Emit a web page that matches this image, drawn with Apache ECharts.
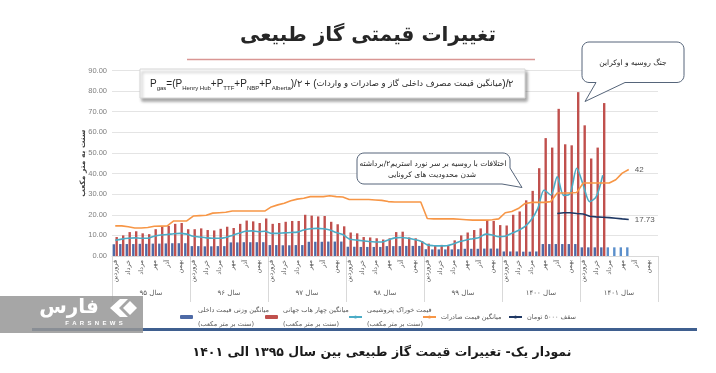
<!DOCTYPE html>
<html><head><meta charset="utf-8">
<script src="https://cdn.jsdelivr.net/npm/echarts@6/dist/echarts.min.js"></script>
<style>html,body{margin:0;padding:0;background:#fff}#c{width:716px;height:373px}</style>
</head><body><div id="c"></div>
<script>
// ---------- tick labels ----------
const monthNames = ['فروردین','اردیبهشت','خرداد','تیر','مرداد','شهریور','مهر','آبان','آذر','دی','بهمن','اسفند'];
const yearLabels = ['سال ۹۵','سال ۹۶','سال ۹۷','سال ۹۸','سال ۹۹','سال ۱۴۰۰','سال ۱۴۰۱'];
const yMin = 0, yMax = 90, yStep = 10;

// ---------- series names ----------
const nameDomestic = 'میانگین وزنی قیمت داخلی';
const nameHubs = 'میانگین چهار هاب جهانی';
const namePetro = 'قیمت خوراک پتروشیمی';
const nameExport = 'میانگین قیمت صادرات';
const nameCeiling = 'سقف ۵۰۰۰ تومان';
const unitText = '(سنت بر متر مکعب)';

// ---------- values (cents per m3), 7 years x 12 months ----------
const domesticPrice = [
  5.7,5.8,5.8,5.8,5.9,5.9,6.0,6.0,6.1,6.2,6.2,6.2,
  4.8,4.8,4.7,4.7,4.8,4.8,6.6,6.6,6.7,6.7,6.7,6.7,
  5.3,5.3,5.2,5.2,5.3,5.3,6.9,6.9,6.9,7.0,7.0,7.0,
  4.5,4.5,4.4,4.4,4.4,4.4,4.8,4.8,4.8,4.9,4.9,4.9,
  3.3,3.2,3.2,3.2,3.2,3.3,3.5,3.5,3.5,3.6,3.6,3.6,
  2.2,2.2,2.2,2.1,2.1,2.2,5.8,5.8,5.8,5.8,5.8,5.8,
  4.2,4.2,4.2,4.2,4.2,4.2,4.2,4.2,null,null,null,null
];
const hubAverage = [
  9.2,10.0,11.6,12.0,11.0,10.6,13.0,14.2,14.6,15.6,16.0,13.0,
  13.0,13.4,12.6,12.4,13.2,14.2,13.6,15.6,17.2,16.8,16.0,18.2,
  15.6,16.0,16.6,17.0,17.0,20.0,19.6,19.2,19.4,16.6,15.4,14.4,
  11.4,11.0,9.2,9.0,8.6,8.0,8.6,11.6,11.8,9.0,8.6,7.2,
  6.0,5.2,5.4,5.0,7.6,10.0,11.4,12.6,13.4,17.4,17.0,15.0,
  14.8,20.0,21.6,27.0,31.6,42.6,57.2,52.6,71.4,54.2,53.7,79.5,
  63.4,47.3,52.6,74.2,null,null,null,null,null,null,null,null
];
const petrochemFeed = [
  7.6,8.2,8.6,8.8,8.6,8.6,9.6,10.2,10.4,10.8,11.0,10.6,
  9.6,9.2,8.8,8.6,8.6,9.0,10.0,11.0,12.0,12.2,11.8,12.0,
  11.0,11.0,11.2,11.4,11.6,12.6,13.2,13.4,13.2,12.6,11.4,10.4,
  8.2,7.8,7.4,7.0,6.8,6.8,7.8,8.8,9.0,8.6,8.0,7.2,
  5.4,5.0,4.9,5.0,5.8,7.0,7.8,8.4,9.0,10.6,10.2,9.4,
  9.6,11.0,12.4,14.2,17.6,23.0,32.0,29.6,38.4,29.4,30.4,42.6,
  34.4,26.4,28.8,39.2,null,null,null,null,null,null,null,null
];
const exportPrice = [
  14.6,14.6,14.2,13.6,13.6,13.8,14.4,14.5,14.6,17.0,17.0,17.0,
  19.4,19.6,19.8,20.8,21.0,21.2,21.8,21.8,21.8,21.8,21.8,21.8,
  23.8,24.8,25.6,26.8,27.6,28.0,28.8,28.8,28.8,29.2,28.8,28.6,
  27.4,27.4,27.4,27.4,27.2,27.0,26.4,26.2,26.2,26.2,26.2,26.2,
  18.2,18.0,18.0,18.0,18.0,17.8,17.6,17.4,17.4,17.4,17.6,18.0,
  21.0,21.6,23.0,25.4,26.0,26.0,26.0,26.4,30.6,30.6,30.6,30.8,
  35.4,35.4,35.4,35.4,35.4,37.0,40.2,42.0,null,null,null,null
];
const ceiling5000 = [
  null,null,null,null,null,null,null,null,null,null,null,null,
  null,null,null,null,null,null,null,null,null,null,null,null,
  null,null,null,null,null,null,null,null,null,null,null,null,
  null,null,null,null,null,null,null,null,null,null,null,null,
  null,null,null,null,null,null,null,null,null,null,null,null,
  null,null,null,null,null,null,null,null,20.6,21.0,21.0,20.6,
  20.4,19.3,19.0,18.8,18.6,18.3,18.0,17.73,null,null,null,null
];

// ---------- build ----------
const categories = [];
yearLabels.forEach((y, yi) => monthNames.forEach(m => categories.push(yi + '|' + m)));
const lastDomesticDark = 6 * 12 + 3; // later months drawn in lighter blue
const domesticData = domesticPrice.map((v, i) => i > lastDomesticDark && v != null ? {value: v, itemStyle: {color: '#5b8fcb'}} : v);

const FA = '"DejaVu Sans", sans-serif';
const LAT = '"Liberation Sans", Arial, sans-serif';

function arc(cx, cy, r, a0, a1) {
  const pts = [];
  for (let k = 0; k <= 6; k++) {
    const a = (a0 + (a1 - a0) * k / 6) * Math.PI / 180;
    pts.push([cx + r * Math.cos(a), cy + r * Math.sin(a)]);
  }
  return pts;
}
function calloutBottom(x0, y0, x1, y1, r, bR, tip, bL) {
  return [].concat(arc(x0 + r, y0 + r, r, 180, 270), arc(x1 - r, y0 + r, r, 270, 360),
    arc(x1 - r, y1 - r, r, 0, 90), [[bR, y1], tip, [bL, y1]], arc(x0 + r, y1 - r, r, 90, 180));
}
function calloutRightCorner(x0, y0, x1, y1, r, yR, tip, xB) {
  return [].concat(arc(x0 + r, y0 + r, r, 180, 270), arc(x1 - r, y0 + r, r, 270, 360),
    [[x1, yR], tip, [xB, y1]], arc(x0 + r, y1 - r, r, 90, 180));
}

function legendFor(name, left, twoLine) {
  return {
    left: left, top: twoLine ? 291 : 305, itemWidth: 13, itemHeight: 4,
    textStyle: {fontSize: 6.5, color: '#595959', fontFamily: FA, lineHeight: 14},
    formatter: n => twoLine ? n + '\n' + unitText : n,
    data: [twoLine ? {name: name, textStyle: {padding: [14, 0, 0, 0]}} : {name: name}]
  };
}

const chart = echarts.init(document.getElementById('c'), null, {renderer: 'canvas'});
chart.setOption({
  animation: false,
  backgroundColor: '#fff',
  grid: {left: 112, right: 58, top: 70.5, bottom: 117},
  legend: [
    legendFor(nameDomestic, 175, true),
    legendFor(nameHubs, 260, true),
    legendFor(namePetro, 343, true),
    legendFor(nameExport, 417, false),
    legendFor(nameCeiling, 503, false)
  ],
  xAxis: [{
    type: 'category', data: categories,
    axisLine: {lineStyle: {color: '#d9d9d9'}},
    axisTick: {show: false},
    axisLabel: {interval: 1, rotate: 90, fontSize: 6.5, color: '#595959', fontFamily: FA, margin: 4,
      formatter: v => v.split('|')[1]},
    splitLine: {show: false}
  }, {
    type: 'category', data: yearLabels, position: 'bottom',
    axisLine: {show: false},
    axisTick: {show: true, length: 46, lineStyle: {color: '#d9d9d9'}},
    axisLabel: {margin: 34, fontSize: 7, color: '#595959', fontFamily: FA},
    splitLine: {show: false}
  }],
  yAxis: {
    type: 'value', min: yMin, max: yMax, interval: yStep,
    name: 'سنت به متر مکعب', nameLocation: 'middle', nameRotate: 90, nameGap: 25, nameMoveOverlap: false,
    nameTextStyle: {fontSize: 7.5, fontWeight: 'bold', color: '#404040', fontFamily: FA},
    axisLine: {show: false}, axisTick: {show: false},
    axisLabel: {formatter: v => v.toFixed(2), fontSize: 7.5, color: '#7f7f7f', fontFamily: LAT, margin: 5},
    splitLine: {lineStyle: {color: '#e4e4e4'}}
  },
  series: [
    {name: nameDomestic, type: 'bar', data: domesticData, barWidth: 2.4, barGap: '20%', itemStyle: {color: '#4e6aa6'}},
    {name: nameHubs, type: 'bar', data: hubAverage, barWidth: 2.4, barGap: '20%', itemStyle: {color: '#c0504d'}},
    {name: namePetro, type: 'line', data: petrochemFeed, symbol: 'none', smooth: 0.3, lineStyle: {width: 1.6, color: '#4bacc6'}, itemStyle: {color: '#4bacc6'}},
    {name: nameExport, type: 'line', data: exportPrice, symbol: 'none', lineStyle: {width: 1.6, color: '#f79646'}, itemStyle: {color: '#f79646'},
      endLabel: {show: true, formatter: p => String(p.value), fontSize: 8, color: '#595959', fontFamily: LAT, distance: 6}},
    {name: nameCeiling, type: 'line', data: ceiling5000, symbol: 'none', lineStyle: {width: 1.6, color: '#1f3864'}, itemStyle: {color: '#1f3864'},
      endLabel: {show: true, formatter: p => String(p.value), fontSize: 8, color: '#595959', fontFamily: LAT, distance: 6}}
  ],
  graphic: [
    {type: 'text', z: 100, style: {text: 'تغییرات قیمتی گاز طبیعی', x: 368, y: 36, align: 'center', textAlign: 'center', verticalAlign: 'middle', textVerticalAlign: 'middle', font: 'bold 20px ' + FA, fill: '#262626'}},
    {type: 'line', z: 100, shape: {x1: 187, y1: 59.5, x2: 535, y2: 59.5}, style: {stroke: '#d99694', lineWidth: 1.5}},
    {type: 'rect', z: 100, shape: {x: 140, y: 69, width: 385, height: 29}, style: {fill: '#fff', stroke: '#d6d6d6', lineWidth: 1, shadowBlur: 3, shadowOffsetX: 2, shadowOffsetY: 3, shadowColor: 'rgba(0,0,0,0.35)'}},
    {type: 'text', z: 101, style: {
      text: '{p|P}{s|gas}{p|=(P}{s|Henry Hub}{p|+P}{s|TTF}{p|+P}{s|NBP}{p|+P}{s|Alberta}{p|)/۲ + (}{f|میانگین قیمت مصرف داخلی گاز و صادرات و واردات}{p|)/۲}',
      x: 150, y: 84, verticalAlign: 'middle', textVerticalAlign: 'middle',
      rich: {
        p: {fontSize: 10, fontFamily: LAT, fill: '#262626', lineHeight: 14},
        s: {fontSize: 6, fontFamily: LAT, fill: '#262626', lineHeight: 7, verticalAlign: 'bottom'},
        f: {fontSize: 8.5, fontFamily: FA, fill: '#262626', lineHeight: 14}
      }}},
    {type: 'polygon', z: 100, shape: {points: calloutRightCorner(357, 153, 510, 184, 7, 168, [522, 187.5], 502)}, style: {fill: '#fff', stroke: '#56657a', lineWidth: 1}},
    {type: 'text', z: 101, style: {text: 'اختلافات با روسیه بر سر نورد استریم۲/برداشته', x: 433, y: 164, align: 'center', textAlign: 'center', verticalAlign: 'middle', textVerticalAlign: 'middle', font: '7.5px ' + FA, fill: '#262626'}},
    {type: 'text', z: 101, style: {text: 'شدن محدودیت های کرونایی', x: 432, y: 175, align: 'center', textAlign: 'center', verticalAlign: 'middle', textVerticalAlign: 'middle', font: '7.5px ' + FA, fill: '#262626'}},
    {type: 'polygon', z: 100, shape: {points: calloutBottom(582, 42, 684, 82.5, 7, 625, [585, 101.5], 596)}, style: {fill: '#fff', stroke: '#56657a', lineWidth: 1}},
    {type: 'text', z: 101, style: {text: 'جنگ روسیه و اوکراین', x: 633, y: 63, align: 'center', textAlign: 'center', verticalAlign: 'middle', textVerticalAlign: 'middle', font: '7.5px ' + FA, fill: '#262626'}},
    {type: 'rect', z: 100, shape: {x: 32, y: 328, width: 665, height: 3}, style: {fill: '#3f5f8f'}},
    {type: 'rect', z: 101, shape: {x: 0, y: 296, width: 143, height: 37}, style: {fill: 'rgba(150,150,150,0.85)'}},
    {type: 'text', z: 102, style: {text: 'فارس', x: 69, y: 308, align: 'center', textAlign: 'center', verticalAlign: 'middle', textVerticalAlign: 'middle', font: 'bold 20px ' + FA, fill: '#fff'}},
    {type: 'polygon', z: 102, shape: {points: [[110, 308], [120, 299], [128, 299], [119, 308], [128, 317], [120, 317]]}, style: {fill: '#fff'}},
    {type: 'polygon', z: 102, shape: {points: [[123, 308], [130, 301], [137, 308], [130, 315]]}, style: {fill: '#fff'}},
    {type: 'text', z: 102, style: {text: 'F  A  R  S  N  E  W  S', x: 94, y: 323, align: 'center', textAlign: 'center', verticalAlign: 'middle', textVerticalAlign: 'middle', font: 'bold 6px ' + LAT, fill: '#fff'}},
    {type: 'text', z: 100, style: {text: 'نمودار یک- تغییرات قیمت گاز طبیعی بین سال ۱۳۹۵ الی ۱۴۰۱', x: 382, y: 353, align: 'center', textAlign: 'center', verticalAlign: 'middle', textVerticalAlign: 'middle', font: 'bold 12.5px ' + FA, fill: '#1a1a1a'}}
  ]
});
</script></body></html>
